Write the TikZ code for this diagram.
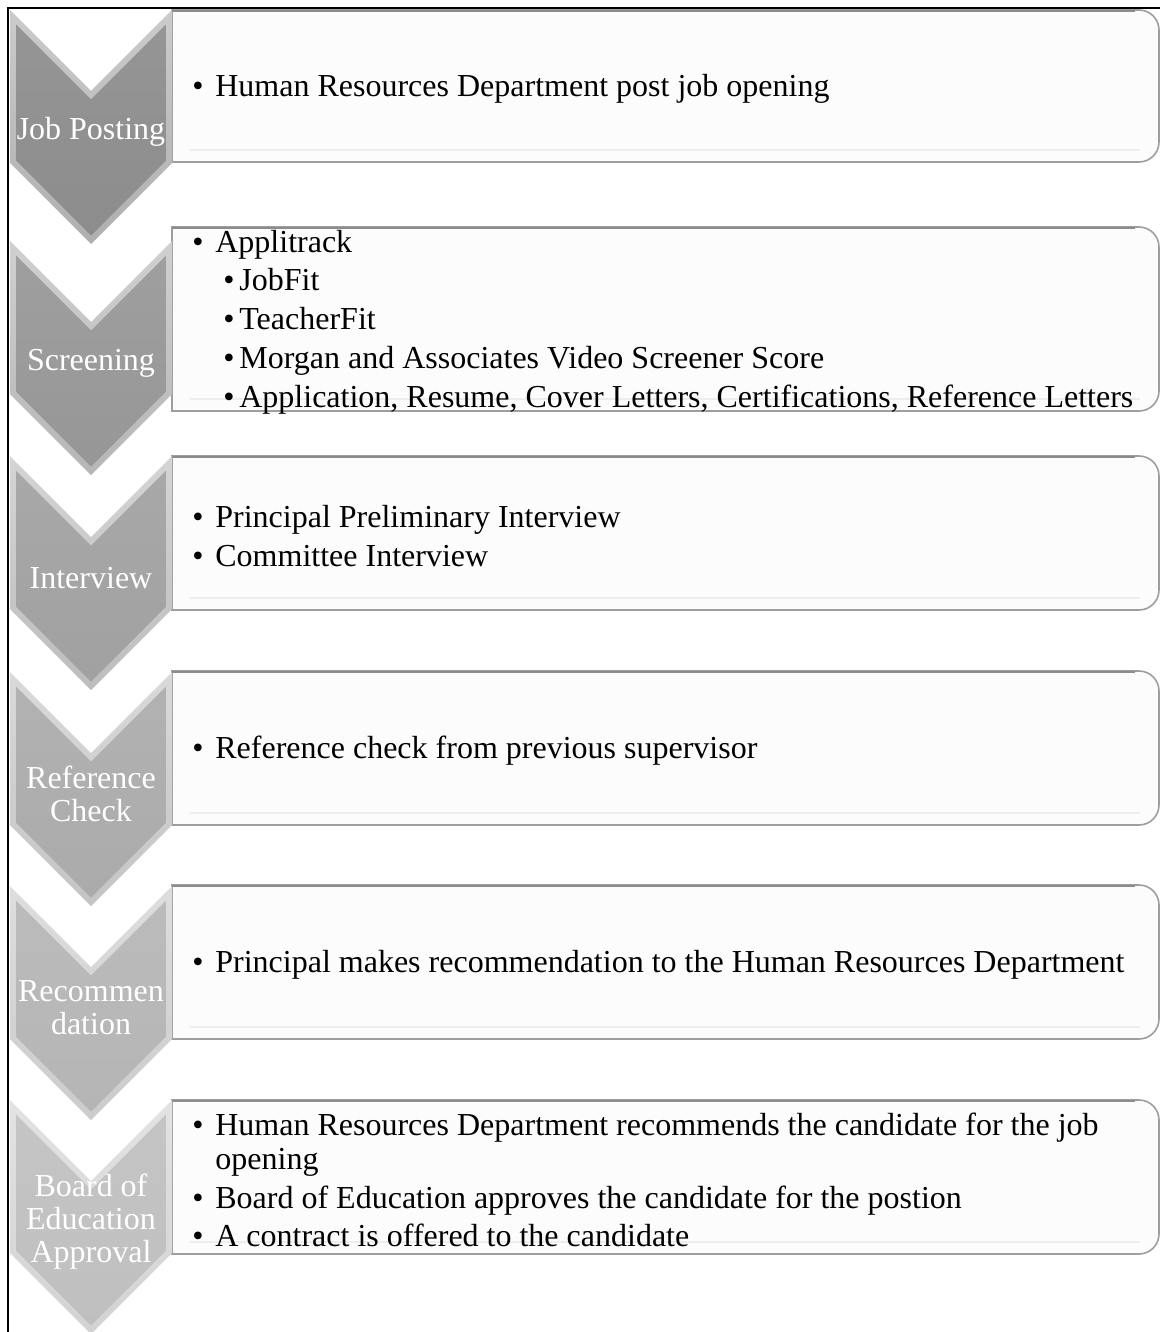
\documentclass[tikz,border=0pt]{standalone}
\usepackage{fontspec}
\setmainfont{Liberation Serif}
\usepackage{xcolor}

\definecolor{boxfill}{gray}{0.99}
\definecolor{boxline}{gray}{0.62}
\definecolor{boxshine}{gray}{0.93}

\newcommand{\itm}{\makebox[11.5pt][l]{\textbullet}}
\newcommand{\subitm}{\hspace*{15.5pt}\makebox[8pt][l]{\textbullet}}

\tikzset{
  steplabel/.style={text=white, align=center, inner sep=0pt,
    font=\fontsize{16}{16.5}\selectfont},
  itemtext/.style={anchor=west, align=left, inner sep=0pt,
    font=\fontsize{16}{17}\selectfont},
}

\begin{document}
\begin{tikzpicture}[x=0.5pt,y=-0.5pt]
\useasboundingbox (0,0) rectangle (1160,1332);

% frame
\draw[line width=1pt] (8,1340) -- (8,8) -- (1160,8);

% text boxes
\foreach \i/\ytop/\ybot in {1/10/162, 2/227/411, 3/456/610, 4/671/825, 5/885/1039, 6/1100/1254}
{
\draw[fill=boxfill, draw=boxline, line width=0.8pt]
  (172,\ytop) -- (1139,\ytop) arc[start angle=90, end angle=0, radius=10pt]
  -- (1159,\ybot-20) arc[start angle=0, end angle=-90, radius=10pt]
  -- (172,\ybot) -- cycle;
\draw[black!45, line width=1pt] (172,\ytop+1) -- (1135,\ytop+1);
\draw[boxshine, line width=1pt] (190,\ybot-12) -- (1140,\ybot-12);
}

% chevrons
\foreach \i/\ytop/\lev/\descr in {1/10/45/{Job Posting}, 2/241/41/Screening,
  3/456/37/Interview, 4/672/33/{Reference\\Check}, 5/886/29/{Recommen\\dation},
  6/1100/25/{Board of\\Education\\Approval}}
{
\colorlet{chev}{black!\lev}
\pgfmathsetmacro\yn{\ytop+81}
\pgfmathsetmacro\ys{\ytop+153}
\pgfmathsetmacro\yt{\ytop+234}
% bevelled rim
\shade[top color=chev!45!white, bottom color=chev!70!white]
  (10,\ytop) -- (91,\yn) -- (172,\ytop) -- (172,\ys) -- (91,\yt) -- (10,\ys) -- cycle;
% face
\shade[top color=chev!92!white, bottom color=chev]
  (16,\ytop+14.5) -- (91,\yn+8.5) -- (166,\ytop+14.5) -- (166,\ys-2.5)
  -- (91,\yt-8.5) -- (16,\ys-2.5) -- cycle;
\node[steplabel] (step\i) at (91,\ytop+122) {\descr};
}

% list items
\node[itemtext] (txt1) at (192,89) {\itm Human Resources Department post job opening};
\node[itemtext] (txt2) at (192,322) {\itm Applitrack\\[2.35pt]
  \subitm JobFit\\[2.35pt]
  \subitm TeacherFit\\[2.35pt]
  \subitm Morgan and Associates Video Screener Score\\[2.35pt]
  \subitm Application, Resume, Cover Letters, Certifications, Reference Letters};
\node[itemtext] (txt3) at (192,536) {\itm Principal Preliminary Interview\\[2.35pt]
  \itm Committee Interview};
\node[itemtext] (txt4) at (192,751) {\itm Reference check from previous supervisor};
\node[itemtext] (txt5) at (192,965) {\itm Principal makes recommendation to the Human Resources Department};
\node[itemtext] (txt6) at (192,1180) {\itm Human Resources Department recommends the candidate for the job\\
  \hspace*{11.5pt}opening\\[2.35pt]
  \itm Board of Education approves the candidate for the postion\\[2.35pt]
  \itm A contract is offered to the candidate};
\end{tikzpicture}
\end{document}
